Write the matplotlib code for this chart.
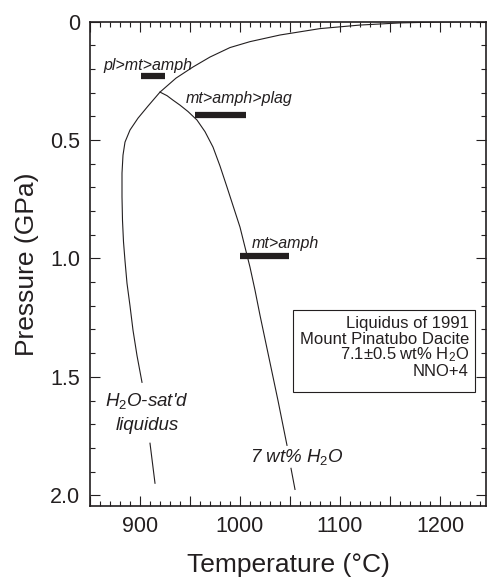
import matplotlib
matplotlib.use("Agg")
import matplotlib.pyplot as plt
from matplotlib.ticker import MultipleLocator, FuncFormatter
from matplotlib.patches import Rectangle

plt.rcParams['font.family'] = ['Liberation Sans', 'DejaVu Sans']
plt.rcParams['mathtext.fontset'] = 'custom'
plt.rcParams['mathtext.rm'] = 'Liberation Sans'
plt.rcParams['mathtext.it'] = 'Liberation Sans:italic'

INK = '#231f20'

# H2O-saturated liquidus (T in C, P in GPa), split around its label
sat_T_top = [1246, 1200, 1160, 1120, 1080, 1040, 1010, 990, 970, 953, 936, 920,
             908, 898, 890, 885, 883, 882, 882, 882.5, 883.5, 885, 887, 890, 893, 897, 902]
sat_P_top = [0.0, 0.002, 0.006, 0.015, 0.03, 0.057, 0.085, 0.11, 0.15, 0.192, 0.239, 0.298,
             0.357, 0.408, 0.458, 0.509, 0.564, 0.64, 0.74, 0.84, 0.93, 1.01, 1.105, 1.2, 1.303,
             1.41, 1.523]
sat_T_bot = [910, 915]
sat_P_bot = [1.78, 1.949]

# 7 wt% H2O liquidus
w7_T_top = [920, 927, 933, 940, 948, 957, 965, 973, 980, 987, 1000, 1010, 1015, 1020, 1025,
            1030, 1038, 1047]
w7_P_top = [0.298, 0.313, 0.332, 0.353, 0.38, 0.416, 0.465, 0.53, 0.61, 0.699, 0.868, 1.037,
            1.134, 1.24, 1.34, 1.44, 1.60, 1.789]
w7_T_bot = [1051, 1055]
w7_P_bot = [1.886, 1.975]

# mineral appearance bars
bar_labels = ['pl>mt>amph', 'mt>amph>plag', 'mt>amph']
bar_T0 = [901, 955, 1000]
bar_T1 = [925, 1006, 1049]
bar_P = [0.23, 0.395, 0.988]
label_T = [863, 946, 1012]
label_P = [0.184, 0.323, 0.936]

box_lines = ['Liquidus of 1991', 'Mount Pinatubo Dacite',
             r'7.1±0.5 wt% $\mathrm{H_2O}$', 'NNO+4']

fig = plt.figure(figsize=(4.88, 5.85), dpi=100)
ax = fig.add_axes([90/488, 1-506/585, 396/488, (506-21.5)/585])

ax.plot(sat_T_top, sat_P_top, color=INK, lw=0.8)
ax.plot(sat_T_bot, sat_P_bot, color=INK, lw=0.8)
ax.plot(w7_T_top, w7_P_top, color=INK, lw=0.8)
ax.plot(w7_T_bot, w7_P_bot, color=INK, lw=0.8)

for lab, t0, t1, p, lt, lp in zip(bar_labels, bar_T0, bar_T1, bar_P, label_T, label_P):
    ax.plot([t0, t1], [p, p], color=INK, lw=4.5, solid_capstyle='butt')
    ax.text(lt, lp, lab, style='italic', fontsize=11.5, color=INK, ha='left', va='center')

ax.text(907, 1.60, r"$\mathit{H_2O}$-sat'd", style='italic', fontsize=13.5, color=INK,
        ha='center', va='center')
ax.text(907, 1.704, 'liquidus', style='italic', fontsize=13.5, color=INK, ha='center', va='center')
ax.text(1010, 1.84, r'7 wt% $\mathit{H_2O}$', style='italic', fontsize=13.5, color=INK,
        ha='left', va='center')

ax.add_patch(Rectangle((1053, 1.218), 182, 0.347, fill=False, ec=INK, lw=0.8))
for i, line in enumerate(box_lines):
    ax.text(1229, 1.273 + 0.0676*i, line, fontsize=12, color=INK, ha='right', va='center')

ax.set_xlim(850, 1246)
ax.set_ylim(2.045, 0)

ax.xaxis.set_major_locator(MultipleLocator(50))
ax.xaxis.set_minor_locator(MultipleLocator(10))
ax.xaxis.set_major_formatter(FuncFormatter(lambda v, p: '%d' % v if v % 100 == 0 else ''))
ax.yaxis.set_major_locator(MultipleLocator(0.5))
ax.yaxis.set_minor_locator(MultipleLocator(0.1))
ax.yaxis.set_major_formatter(FuncFormatter(lambda v, p: '0' if v == 0 else '%.1f' % v))

ax.tick_params(which='both', direction='in', top=True, right=True, colors=INK,
               labelsize=15.5, width=0.8)
ax.tick_params(which='major', length=7, pad=7)
ax.tick_params(which='minor', length=3.6)
for s in ax.spines.values():
    s.set_linewidth(1.2)
    s.set_color(INK)

ax.set_xlabel('Temperature (°C)', fontsize=19, color=INK, labelpad=12)
ax.set_ylabel('Pressure (GPa)', fontsize=19, color=INK, labelpad=8)

fig.savefig('out.png', dpi=100)
